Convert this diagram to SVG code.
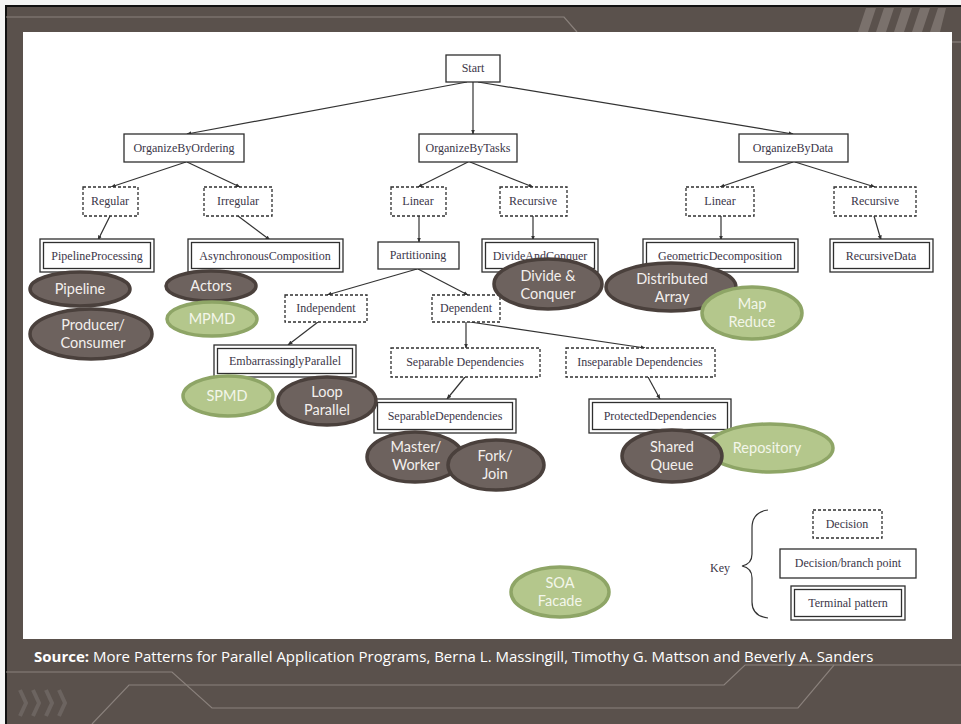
<svg xmlns="http://www.w3.org/2000/svg" width="961" height="724" viewBox="0 0 961 724">
  <style>
    .bx { fill: #ffffff; stroke: #2f2f2f; stroke-width: 1.3; }
    .dash { fill: #ffffff; stroke: #2f2f2f; stroke-width: 1.3; stroke-dasharray: 3 2; }
    .lbl { font-family: "Liberation Serif", "DejaVu Serif", serif; font-size: 12px; fill: #3b3648; text-anchor: middle; }
    .edge { fill: none; stroke: #333333; stroke-width: 1.2; marker-end: url(#arr); }
    .dk { fill: #6d625e; stroke: #4a403c; stroke-width: 3.5; }
    .gr { fill: #b4c78c; stroke: #8ea566; stroke-width: 3.5; }
    .et { font-family: Lato, "Open Sans", sans-serif; font-size: 14.5px; text-anchor: middle; }
    .dkt { fill: #f3efed; }
    .grt { fill: #f3f6ea; }
    .deco { fill: none; stroke: #8a817c; stroke-width: 1.2; }
  </style>
  <defs>
    <marker id="arr" viewBox="0 0 10 10" refX="9" refY="5" markerWidth="5" markerHeight="5" orient="auto" markerUnits="userSpaceOnUse">
      <path d="M0,1 L10,5 L0,9 z" fill="#333333"/>
    </marker>
  </defs>

  <!-- slide frame -->
  <rect x="0" y="0" width="961" height="724" fill="#f4f4f4"/>
  <rect x="6" y="6" width="960" height="723" fill="#5a514c" stroke="#111111" stroke-width="2"/>
  <polyline class="deco" points="6,17 564,17 577,32"/>
  <line class="deco" x1="952" y1="42" x2="961" y2="42"/>
  <g fill="#7a716c">
    <polygon points="866,8 876,8 868,32 858,32"/>
    <polygon points="884,8 894,8 886,32 876,32"/>
    <polygon points="902,8 912,8 904,32 894,32"/>
    <polygon points="920,8 930,8 922,32 912,32"/>
    <polygon points="938,8 946,8 940,32 930,32"/>
  </g>
  <rect x="23" y="32" width="929" height="607" fill="#ffffff"/>

  <!-- footer lines -->
  <polyline class="deco" points="6,672 172,672 212,708 798,708 834,665 961,665"/>
  <polyline class="deco" points="92,724 129,685 724,685 745,665 834,665"/>
  <g fill="none" stroke="#6c6460" stroke-width="4">
    <polyline points="20,690 26,703 20,716"/>
    <polyline points="33,690 39,703 33,716"/>
    <polyline points="46,690 52,703 46,716"/>
    <polyline points="59,690 65,703 59,716"/>
  </g>
  <text x="34" y="662" font-family="Open Sans, Noto Sans, sans-serif" font-size="15px" fill="#ffffff"><tspan font-weight="bold">Source:</tspan> More Patterns for Parallel Application Programs, Berna L. Massingill, Timothy G. Mattson and Beverly A. Sanders</text>

  <!-- connectors -->
  <g id="edges">
    <line class="edge" x1="467" y1="82" x2="187" y2="134"/>
    <line class="edge" x1="473" y1="82" x2="473" y2="134"/>
    <line class="edge" x1="478" y1="82" x2="793" y2="134"/>
    <line class="edge" x1="186" y1="162" x2="111" y2="187"/>
    <line class="edge" x1="187" y1="162" x2="240" y2="187"/>
    <line class="edge" x1="468" y1="162" x2="418" y2="187"/>
    <line class="edge" x1="470" y1="162" x2="533" y2="187"/>
    <line class="edge" x1="793" y1="162" x2="720" y2="187"/>
    <line class="edge" x1="795" y1="162" x2="875" y2="187"/>
    <line class="edge" x1="110" y1="216" x2="98" y2="240"/>
    <line class="edge" x1="238" y1="216" x2="270" y2="240"/>
    <line class="edge" x1="419" y1="216" x2="419" y2="242"/>
    <line class="edge" x1="533" y1="216" x2="533" y2="240"/>
    <line class="edge" x1="721" y1="216" x2="721" y2="240"/>
    <line class="edge" x1="874" y1="216" x2="881" y2="240"/>
    <line class="edge" x1="417" y1="269" x2="327" y2="295"/>
    <line class="edge" x1="418" y1="269" x2="468" y2="295"/>
    <line class="edge" x1="318" y1="322" x2="288" y2="345"/>
    <line class="edge" x1="466" y1="322" x2="466" y2="348"/>
    <line class="edge" x1="470" y1="322" x2="645" y2="348"/>
    <line class="edge" x1="465" y1="377" x2="447" y2="399"/>
    <line class="edge" x1="648" y1="377" x2="660" y2="399"/>
  </g>

  <!-- decision / branch points -->
  <g id="start"><rect class="bx" x="446" y="55" width="54" height="27"/><text class="lbl" x="473" y="72">Start</text></g>
  <g id="organize-by-ordering"><rect class="bx" x="124" y="134" width="120" height="28"/><text class="lbl" x="184" y="152">OrganizeByOrdering</text></g>
  <g id="organize-by-tasks"><rect class="bx" x="419" y="134" width="98" height="28"/><text class="lbl" x="468" y="152">OrganizeByTasks</text></g>
  <g id="organize-by-data"><rect class="bx" x="739" y="134" width="109" height="28"/><text class="lbl" x="793" y="152">OrganizeByData</text></g>
  <g id="partitioning"><rect class="bx" x="378" y="242" width="81" height="27"/><text class="lbl" x="418" y="259">Partitioning</text></g>

  <!-- decisions -->
  <g id="regular"><rect class="dash" x="83" y="187" width="55" height="29"/><text class="lbl" x="110" y="205">Regular</text></g>
  <g id="irregular"><rect class="dash" x="204" y="187" width="68" height="29"/><text class="lbl" x="238" y="205">Irregular</text></g>
  <g id="tasks-linear"><rect class="dash" x="391" y="187" width="55" height="29"/><text class="lbl" x="418" y="205">Linear</text></g>
  <g id="tasks-recursive"><rect class="dash" x="500" y="187" width="67" height="29"/><text class="lbl" x="533" y="205">Recursive</text></g>
  <g id="data-linear"><rect class="dash" x="686" y="187" width="68" height="29"/><text class="lbl" x="720" y="205">Linear</text></g>
  <g id="data-recursive"><rect class="dash" x="834" y="187" width="82" height="29"/><text class="lbl" x="875" y="205">Recursive</text></g>
  <g id="independent"><rect class="dash" x="285" y="295" width="82" height="27"/><text class="lbl" x="326" y="312">Independent</text></g>
  <g id="dependent"><rect class="dash" x="432" y="295" width="68" height="27"/><text class="lbl" x="466" y="312">Dependent</text></g>
  <g id="separable-decision"><rect class="dash" x="391" y="348" width="149" height="29"/><text class="lbl" x="465" y="366">Separable Dependencies</text></g>
  <g id="inseparable-decision"><rect class="dash" x="566" y="348" width="149" height="29"/><text class="lbl" x="640" y="366">Inseparable Dependencies</text></g>

  <!-- terminal patterns -->
  <g id="pipeline-processing"><rect class="bx" x="40" y="239" width="114" height="33"/><rect class="bx" x="43.5" y="242.5" width="107" height="26"/><text class="lbl" x="97" y="260">PipelineProcessing</text></g>
  <g id="asynchronous-composition"><rect class="bx" x="188" y="239" width="155" height="33"/><rect class="bx" x="191.5" y="242.5" width="148" height="26"/><text class="lbl" x="265" y="260">AsynchronousComposition</text></g>
  <g id="divide-and-conquer"><rect class="bx" x="482" y="239" width="116" height="33"/><rect class="bx" x="485.5" y="242.5" width="109" height="26"/><text class="lbl" x="540" y="260">DivideAndConquer</text></g>
  <g id="geometric-decomposition"><rect class="bx" x="643" y="239" width="155" height="33"/><rect class="bx" x="646.5" y="242.5" width="148" height="26"/><text class="lbl" x="720" y="260">GeometricDecomposition</text></g>
  <g id="recursive-data"><rect class="bx" x="830" y="239" width="103" height="33"/><rect class="bx" x="833.5" y="242.5" width="96" height="26"/><text class="lbl" x="881" y="260">RecursiveData</text></g>
  <g id="embarrassingly-parallel"><rect class="bx" x="214" y="345" width="142" height="32"/><rect class="bx" x="217.5" y="348.5" width="135" height="25"/><text class="lbl" x="285" y="365">EmbarrassinglyParallel</text></g>
  <g id="separable-dependencies"><rect class="bx" x="374" y="399" width="142" height="34"/><rect class="bx" x="377.5" y="402.5" width="135" height="27"/><text class="lbl" x="445" y="420">SeparableDependencies</text></g>
  <g id="protected-dependencies"><rect class="bx" x="589" y="399" width="142" height="34"/><rect class="bx" x="592.5" y="402.5" width="135" height="27"/><text class="lbl" x="660" y="420">ProtectedDependencies</text></g>

  <!-- implementation strategy ovals -->
  <g id="pipeline"><ellipse class="dk" cx="80" cy="289" rx="50" ry="17"/><text class="et dkt" x="80" y="294">Pipeline</text></g>
  <g id="producer-consumer"><ellipse class="dk" cx="91" cy="334" rx="61" ry="25"/><text class="et dkt" x="93" y="330">Producer/<tspan x="93" dy="17.5">Consumer</tspan></text></g>
  <g id="actors"><ellipse class="dk" cx="211" cy="286" rx="45" ry="15"/><text class="et dkt" x="211" y="291">Actors</text></g>
  <g id="mpmd"><ellipse class="gr" cx="212" cy="319" rx="45" ry="17"/><text class="et grt" x="212" y="324">MPMD</text></g>
  <g id="divide-conquer"><ellipse class="dk" cx="548" cy="284" rx="54" ry="25"/><text class="et dkt" x="548" y="281">Divide &amp;<tspan x="548" dy="17.5">Conquer</tspan></text></g>
  <g id="distributed-array"><ellipse class="dk" cx="671" cy="287" rx="65" ry="24"/><text class="et dkt" x="672" y="284">Distributed<tspan x="672" dy="17.5">Array</tspan></text></g>
  <g id="map-reduce"><ellipse class="gr" cx="752" cy="313" rx="50" ry="26"/><text class="et grt" x="752" y="309">Map<tspan x="752" dy="17.5">Reduce</tspan></text></g>
  <g id="spmd"><ellipse class="gr" cx="228" cy="396" rx="45" ry="20"/><text class="et grt" x="227" y="401">SPMD</text></g>
  <g id="loop-parallel"><ellipse class="dk" cx="327" cy="401" rx="49" ry="24"/><text class="et dkt" x="327" y="397">Loop<tspan x="327" dy="17.5">Parallel</tspan></text></g>
  <g id="master-worker"><ellipse class="dk" cx="415" cy="457" rx="48" ry="25"/><text class="et dkt" x="416" y="452">Master/<tspan x="416" dy="17.5">Worker</tspan></text></g>
  <g id="fork-join"><ellipse class="dk" cx="496" cy="465" rx="48" ry="25"/><text class="et dkt" x="495" y="461">Fork/<tspan x="495" dy="17.5">Join</tspan></text></g>
  <g id="repository"><ellipse class="gr" cx="770" cy="448" rx="63" ry="24"/><text class="et grt" x="767" y="453">Repository</text></g>
  <g id="shared-queue"><ellipse class="dk" cx="672" cy="456" rx="50" ry="26"/><text class="et dkt" x="672" y="452">Shared<tspan x="672" dy="17.5">Queue</tspan></text></g>
  <g id="soa-facade"><ellipse class="gr" cx="560" cy="592" rx="49" ry="25"/><text class="et grt" x="560" y="588">SOA<tspan x="560" dy="17.5">Facade</tspan></text></g>

  <!-- key -->
  <g id="key">
    <text class="lbl" x="720" y="572">Key</text>
    <path d="M768,510 Q752,512 752,528 L752,554 Q752,564 742,566 Q752,568 752,578 L752,602 Q752,616 768,618" fill="none" stroke="#333333" stroke-width="1.2"/>
    <rect class="dash" x="813" y="510" width="69" height="28"/><text class="lbl" x="847" y="528">Decision</text>
    <rect class="bx" x="780" y="549" width="136" height="29"/><text class="lbl" x="848" y="567">Decision/branch point</text>
    <rect class="bx" x="791" y="586" width="114" height="34"/><rect class="bx" x="794.5" y="589.5" width="107" height="27"/><text class="lbl" x="848" y="607">Terminal pattern</text>
  </g>
</svg>
